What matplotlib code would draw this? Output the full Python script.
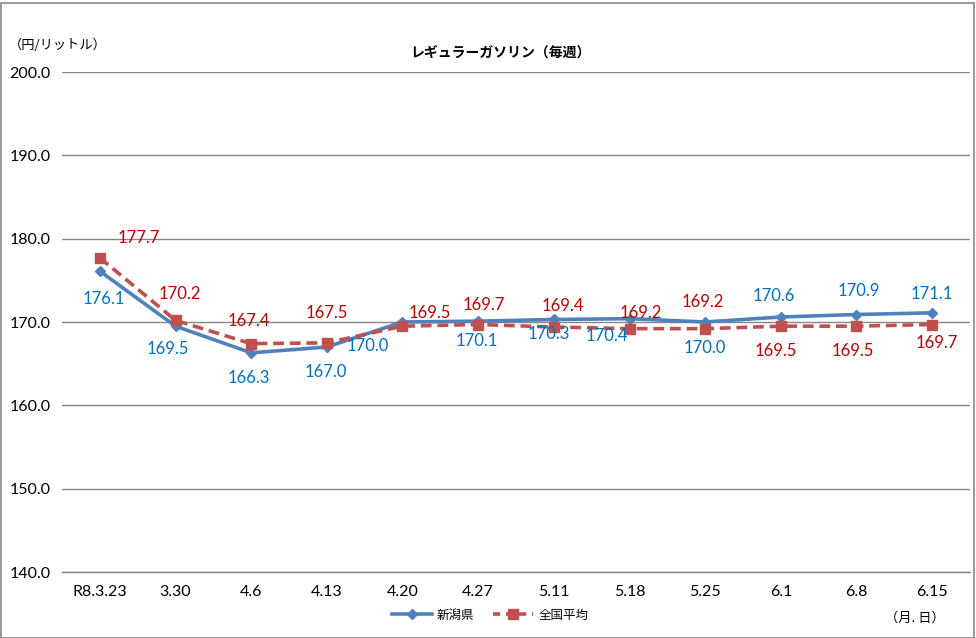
import matplotlib
matplotlib.use("Agg")
import matplotlib.pyplot as plt
from matplotlib.lines import Line2D
from matplotlib.patches import Rectangle

plt.rcParams['font.family'] = ['Lato', 'Noto Sans CJK JP', 'DejaVu Sans']

categories = ["R8.3.23", "3.30", "4.6", "4.13", "4.20", "4.27", "5.11", "5.18", "5.25", "6.1", "6.8", "6.15"]
niigata = [176.1, 169.5, 166.3, 167.0, 170.0, 170.1, 170.3, 170.4, 170.0, 170.6, 170.9, 171.1]
national = [177.7, 170.2, 167.4, 167.5, 169.5, 169.7, 169.4, 169.2, 169.2, 169.5, 169.5, 169.7]
yticks = [140, 150, 160, 170, 180, 190, 200]

# label offsets in pixels (dx, dy)
niigata_off = [(4, -28), (-8, -23), (-2, -25), (-1, -25), (-35, -24), (-1, -20),
               (-5, -15), (-23, -17), (0, -26), (-7, 21), (2, 24), (0, 19)]
national_off = [(39, 20), (4, 26), (-2, 23), (0, 30), (27, 13), (6, 19),
                (9, 21), (11, 16), (-2, 27), (-5, -25), (-4, -25), (5, -19)]

W, H = 976, 638
fig = plt.figure(figsize=(W/100, H/100), dpi=100)
ax = fig.add_axes([62/W, 1-572/H, (970-62)/W, (572-72)/H])

blue = "#4F81BD"
red = "#C0504D"
x = list(range(len(categories)))
ax.plot(x, niigata, color=blue, lw=2.6, marker='D', ms=5, zorder=3)
ax.plot(x, national, color=red, lw=2.6, ls=(0, (3, 1.6)), marker='s', ms=7.5, zorder=3)

for i, v in enumerate(niigata):
    ax.annotate(f"{v:.1f}", (i, v), xytext=niigata_off[i], textcoords='offset pixels',
                ha='center', va='center', color="#0070C0", fontsize=12, zorder=4)
for i, v in enumerate(national):
    ax.annotate(f"{v:.1f}", (i, v), xytext=national_off[i], textcoords='offset pixels',
                ha='center', va='center', color="#C00000", fontsize=12, zorder=4)

ax.set_xlim(-0.5, len(categories) - 0.5)
ax.set_ylim(140, 200)
ax.set_yticks(yticks)
ax.set_yticklabels([f"{t:.1f}" for t in yticks])
ax.set_xticks(x)
ax.set_xticklabels(categories)
ax.tick_params(axis='both', length=0, labelsize=11.5, colors='black')
ax.tick_params(axis='y', pad=8)
ax.tick_params(axis='x', pad=9)
ax.grid(axis='y', color='#868686', lw=1)
ax.set_axisbelow(True)
for s in ['left', 'right', 'top']:
    ax.spines[s].set_visible(False)
ax.spines['bottom'].set_color('#868686')
ax.spines['bottom'].set_linewidth(1)

fig.text(500/W, 1-53/H, "レギュラーガソリン（毎週）", ha='center', va='center',
         fontsize=10, fontweight='bold', family=['Noto Sans CJK JP'])
fig.text(58/W, 1-45/H, "（円/リットル）", ha='center', va='center', fontsize=9.5,
         family=['Noto Sans CJK JP'])
fig.text(915/W, 1-618/H, "（月. 日）", ha='center', va='center', fontsize=9.5,
         family=['Noto Sans CJK JP'])

handles = [Line2D([], [], color=blue, lw=2.6, marker='D', ms=5),
           Line2D([], [], color=red, lw=2.6, ls=(0, (2, 1.6)), marker='s', ms=7.5)]
fig.legend(handles, ["新潟県", "全国平均"], loc='center', bbox_to_anchor=(490/W, 1-615/H),
           ncol=2, frameon=False, prop={'family': 'Noto Sans CJK JP', 'size': 9},
           handlelength=3.2, columnspacing=1.5, handletextpad=0.4)

fig.patches.append(Rectangle((0.5/W, 0.5/H), (W-3)/W, (H-3)/H, transform=fig.transFigure,
                             fill=False, edgecolor='#868686', lw=1.2))

fig.savefig("out.png", dpi=100)
